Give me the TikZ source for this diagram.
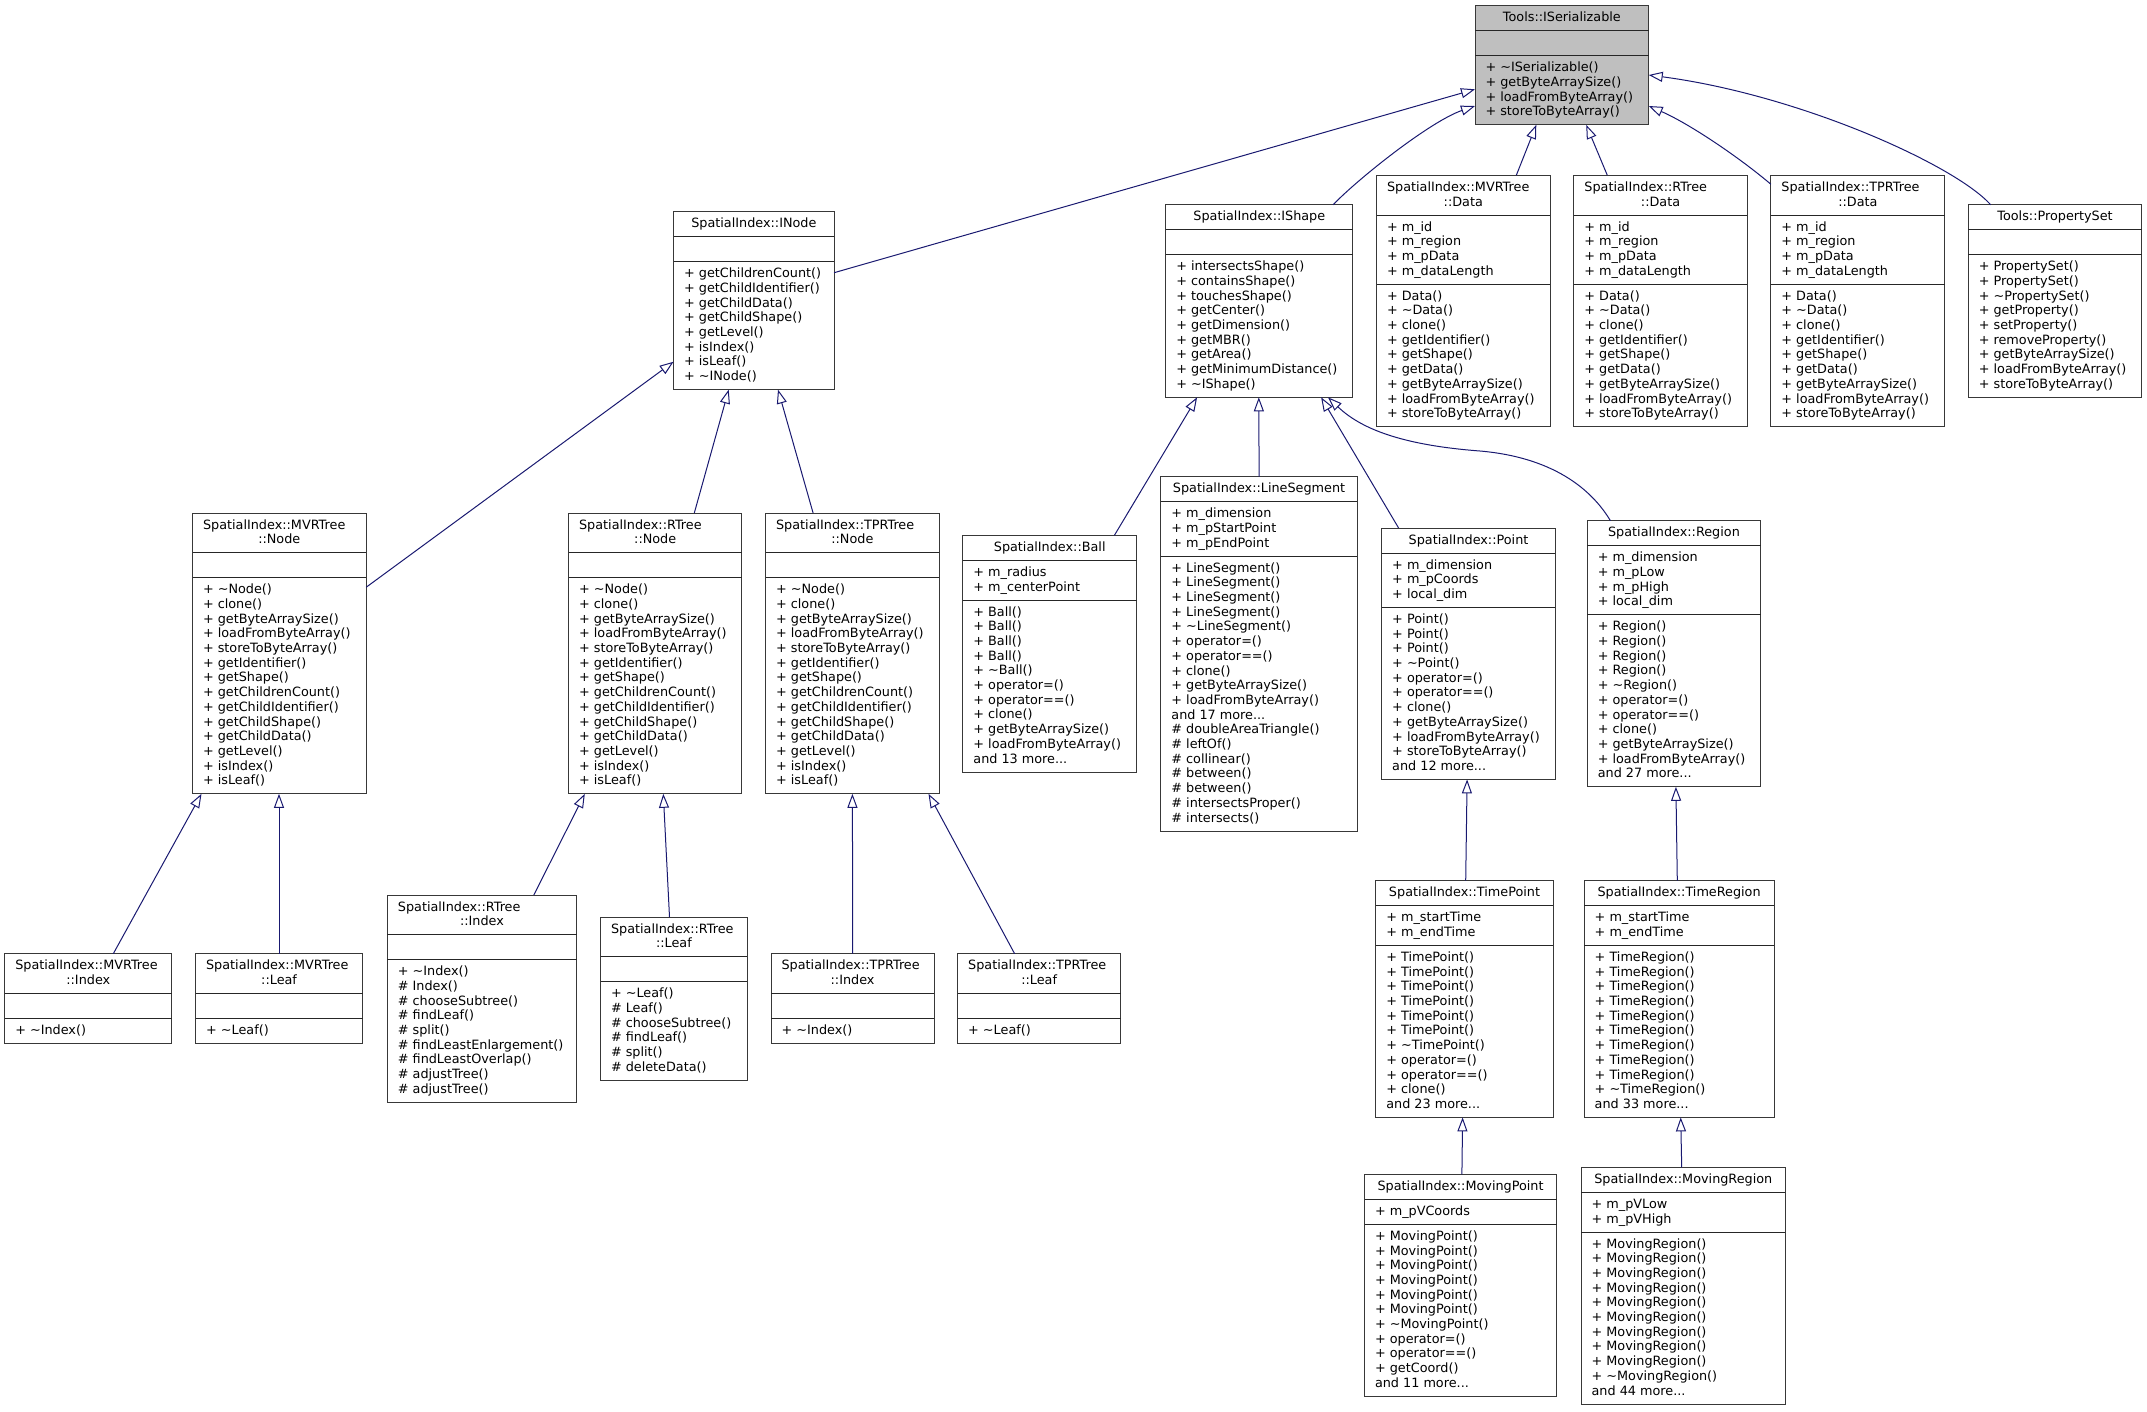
\documentclass[tikz,border=0pt]{standalone}
\usepackage{fontspec}
\setmainfont{DejaVu Sans}
\usetikzlibrary{arrows.meta}
\definecolor{edgeblue}{HTML}{191970}
\definecolor{isergray}{HTML}{BFBFBF}
\newcommand\umlfont{\fontsize{12.8}{14.7}\selectfont}
\newcommand\tld{\textasciitilde}
\def\emptyitem{}
\tikzset{
  umlbox/.style={draw=black!78, line width=1pt, fill=white, inner sep=0pt, outer sep=0pt},
  seprule/.style={draw=black!85, line width=1pt},
  txt/.style={inner sep=0pt, outer sep=0pt, font=\umlfont, text=black},
  inh/.style={draw=edgeblue, line width=1pt, -{Triangle[open, length=14pt, width=10pt]}}
}
% #1 extra style, #2 name, #3 left, #4 right, #5 top, #6 title1, #7 title2, #8 attrs, #9 methods
\newcommand\umlcls[9][]{%
  \gdef\nA{1}\gdef\nM{1}%
  \foreach \itm [count=\ii] in {#8} {\xdef\nA{\ii}}%
  \foreach \itm [count=\ii] in {#9} {\xdef\nM{\ii}}%
  \def\tmpb{#7}%
  \ifx\tmpb\emptyitem \def\nT{1}\else\def\nT{2}\fi
  \pgfmathsetmacro\yA{#5+14.7*\nT+10.3}%
  \pgfmathsetmacro\yB{\yA+14.7*\nA+10.3}%
  \pgfmathsetmacro\yC{\yB+14.7*\nM+10.3}%
  \pgfmathsetmacro\bw{#4-#3}%
  \pgfmathsetmacro\bh{\yC-#5}%
  \node[umlbox,#1,minimum width=\bw pt,minimum height=\bh pt,anchor=north west] (#2) at (#3,#5) {};
  \draw[seprule] (#3,\yA) -- (#4,\yA);
  \draw[seprule] (#3,\yB) -- (#4,\yB);
  \ifx\tmpb\emptyitem
    \node[txt,anchor=base] (#2-t1) at ({(#3+#4)/2},{#5+16}) {#6};
  \else
    \node[txt,anchor=base west] (#2-t1) at ({#3+10.5},{#5+16}) {#6};
    \node[txt,anchor=base] (#2-t2) at ({(#3+#4)/2},{#5+30.7}) {#7};
  \fi
  \foreach \itm [count=\ii] in {#8} {\ifx\itm\emptyitem\else
    \node[txt,anchor=base west] (#2-a\ii) at ({#3+10.5},{\yA+16+14.7*(\ii-1)}) {\itm};\fi}
  \foreach \itm [count=\ii] in {#9} {%
    \node[txt,anchor=base west] (#2-m\ii) at ({#3+10.5},{\yB+16+14.7*(\ii-1)}) {\itm};}
}
\begin{document}
\begin{tikzpicture}[x=1pt,y=-1pt]
\useasboundingbox (0,0) rectangle (2147,1411);

\umlcls[fill=isergray]{ISer}{1475}{1648.7}{5.7}{Tools::ISerializable}{}{}{+ \tld ISerializable(),+ getByteArraySize(),+ loadFromByteArray(),+ storeToByteArray()}

\umlcls{INode}{673.6}{834.1}{211.7}{SpatialIndex::INode}{}{}{+ getChildrenCount(),+ getChildIdentifier(),+ getChildData(),+ getChildShape(),+ getLevel(),+ isIndex(),+ isLeaf(),+ \tld INode()}

\umlcls{IShape}{1165.8}{1352.8}{204.7}{SpatialIndex::IShape}{}{}{+ intersectsShape(),+ containsShape(),+ touchesShape(),+ getCenter(),+ getDimension(),+ getMBR(),+ getArea(),+ getMinimumDistance(),+ \tld IShape()}

\umlcls{MVRData}{1376.5}{1550.1}{175.3}{SpatialIndex::MVRTree}{::Data}{+ m\_id,+ m\_region,+ m\_pData,+ m\_dataLength}{+ Data(),+ \tld Data(),+ clone(),+ getIdentifier(),+ getShape(),+ getData(),+ getByteArraySize(),+ loadFromByteArray(),+ storeToByteArray()}

\umlcls{RTreeData}{1573.9}{1747.2}{175.3}{SpatialIndex::RTree}{::Data}{+ m\_id,+ m\_region,+ m\_pData,+ m\_dataLength}{+ Data(),+ \tld Data(),+ clone(),+ getIdentifier(),+ getShape(),+ getData(),+ getByteArraySize(),+ loadFromByteArray(),+ storeToByteArray()}

\umlcls{TPRData}{1770.9}{1944.8}{175.3}{SpatialIndex::TPRTree}{::Data}{+ m\_id,+ m\_region,+ m\_pData,+ m\_dataLength}{+ Data(),+ \tld Data(),+ clone(),+ getIdentifier(),+ getShape(),+ getData(),+ getByteArraySize(),+ loadFromByteArray(),+ storeToByteArray()}

\umlcls{PropSet}{1968.3}{2141.8}{204.7}{Tools::PropertySet}{}{}{+ PropertySet(),+ PropertySet(),+ \tld PropertySet(),+ getProperty(),+ setProperty(),+ removeProperty(),+ getByteArraySize(),+ loadFromByteArray(),+ storeToByteArray()}

\umlcls{MVRNode}{192.5}{366.1}{513}{SpatialIndex::MVRTree}{::Node}{}{+ \tld Node(),+ clone(),+ getByteArraySize(),+ loadFromByteArray(),+ storeToByteArray(),+ getIdentifier(),+ getShape(),+ getChildrenCount(),+ getChildIdentifier(),+ getChildShape(),+ getChildData(),+ getLevel(),+ isIndex(),+ isLeaf()}

\umlcls{RTreeNode}{568.6}{741.8}{513}{SpatialIndex::RTree}{::Node}{}{+ \tld Node(),+ clone(),+ getByteArraySize(),+ loadFromByteArray(),+ storeToByteArray(),+ getIdentifier(),+ getShape(),+ getChildrenCount(),+ getChildIdentifier(),+ getChildShape(),+ getChildData(),+ getLevel(),+ isIndex(),+ isLeaf()}

\umlcls{TPRNode}{765.6}{939.1}{513}{SpatialIndex::TPRTree}{::Node}{}{+ \tld Node(),+ clone(),+ getByteArraySize(),+ loadFromByteArray(),+ storeToByteArray(),+ getIdentifier(),+ getShape(),+ getChildrenCount(),+ getChildIdentifier(),+ getChildShape(),+ getChildData(),+ getLevel(),+ isIndex(),+ isLeaf()}

\umlcls{Ball}{962.9}{1136.5}{535.3}{SpatialIndex::Ball}{}{+ m\_radius,+ m\_centerPoint}{+ Ball(),+ Ball(),+ Ball(),+ Ball(),+ \tld Ball(),+ operator=(),+ operator==(),+ clone(),+ getByteArraySize(),+ loadFromByteArray(),and 13 more.{}.{}.}

\umlcls{LineSeg}{1160.9}{1357.2}{476.7}{SpatialIndex::LineSegment}{}{+ m\_dimension,+ m\_pStartPoint,+ m\_pEndPoint}{+ LineSegment(),+ LineSegment(),+ LineSegment(),+ LineSegment(),+ \tld LineSegment(),+ operator=(),+ operator==(),+ clone(),+ getByteArraySize(),+ loadFromByteArray(),and 17 more.{}.{}.,\# doubleAreaTriangle(),\# leftOf(),\# collinear(),\# between(),\# between(),\# intersectsProper(),\# intersects()}

\umlcls{Point}{1381.7}{1555.3}{528}{SpatialIndex::Point}{}{+ m\_dimension,+ m\_pCoords,+ local\_dim}{+ Point(),+ Point(),+ Point(),+ \tld Point(),+ operator=(),+ operator==(),+ clone(),+ getByteArraySize(),+ loadFromByteArray(),+ storeToByteArray(),and 12 more.{}.{}.}

\umlcls{Region}{1587.3}{1760.6}{520.7}{SpatialIndex::Region}{}{+ m\_dimension,+ m\_pLow,+ m\_pHigh,+ local\_dim}{+ Region(),+ Region(),+ Region(),+ Region(),+ \tld Region(),+ operator=(),+ operator==(),+ clone(),+ getByteArraySize(),+ loadFromByteArray(),and 27 more.{}.{}.}

\umlcls{TimePoint}{1375.8}{1553.2}{880.7}{SpatialIndex::TimePoint}{}{+ m\_startTime,+ m\_endTime}{+ TimePoint(),+ TimePoint(),+ TimePoint(),+ TimePoint(),+ TimePoint(),+ TimePoint(),+ \tld TimePoint(),+ operator=(),+ operator==(),+ clone(),and 23 more.{}.{}.}

\umlcls{TimeRegion}{1584.2}{1774}{880.7}{SpatialIndex::TimeRegion}{}{+ m\_startTime,+ m\_endTime}{+ TimeRegion(),+ TimeRegion(),+ TimeRegion(),+ TimeRegion(),+ TimeRegion(),+ TimeRegion(),+ TimeRegion(),+ TimeRegion(),+ TimeRegion(),+ \tld TimeRegion(),and 33 more.{}.{}.}

\umlcls{MovingPoint}{1364.5}{1556.6}{1174.3}{SpatialIndex::MovingPoint}{}{+ m\_pVCoords}{+ MovingPoint(),+ MovingPoint(),+ MovingPoint(),+ MovingPoint(),+ MovingPoint(),+ MovingPoint(),+ \tld MovingPoint(),+ operator=(),+ operator==(),+ getCoord(),and 11 more.{}.{}.}

\umlcls{MovingRegion}{1581.1}{1785.4}{1167.3}{SpatialIndex::MovingRegion}{}{+ m\_pVLow,+ m\_pVHigh}{+ MovingRegion(),+ MovingRegion(),+ MovingRegion(),+ MovingRegion(),+ MovingRegion(),+ MovingRegion(),+ MovingRegion(),+ MovingRegion(),+ MovingRegion(),+ \tld MovingRegion(),and 44 more.{}.{}.}

\umlcls{MVRIndex}{4.8}{171.8}{953.7}{SpatialIndex::MVRTree}{::Index}{}{+ \tld Index()}
\umlcls{MVRLeaf}{195.6}{362.6}{953.7}{SpatialIndex::MVRTree}{::Leaf}{}{+ \tld Leaf()}
\umlcls{RTreeIndex}{387.4}{576.5}{895}{SpatialIndex::RTree}{::Index}{}{+ \tld Index(),\# Index(),\# chooseSubtree(),\# findLeaf(),\# split(),\# findLeastEnlargement(),\# findLeastOverlap(),\# adjustTree(),\# adjustTree()}
\umlcls{RTreeLeaf}{600.5}{747.3}{917}{SpatialIndex::RTree}{::Leaf}{}{+ \tld Leaf(),\# Leaf(),\# chooseSubtree(),\# findLeaf(),\# split(),\# deleteData()}
\umlcls{TPRIndex}{771.1}{934}{953.7}{SpatialIndex::TPRTree}{::Index}{}{+ \tld Index()}
\umlcls{TPRLeaf}{957.7}{1120.6}{953.7}{SpatialIndex::TPRTree}{::Leaf}{}{+ \tld Leaf()}

\coordinate (rgnmid) at (1480,451);

\draw[inh] ([shift={(160.5,61)}]INode.north west) -- ([shift={(0,83.6)}]ISer.north west);
\draw[inh] ([shift={(167.3,0)}]IShape.north west) .. controls (1360,177) and (1431,121) .. ([shift={(0,100.3)}]ISer.north west);
\draw[inh] ([shift={(139.8,0)}]MVRData.north west) -- ([shift={(61.3,0)}]ISer.south west);
\draw[inh] ([shift={(33.4,0)}]RTreeData.north west) -- ([shift={(111.2,0)}]ISer.south west);
\draw[inh] ([shift={(0,9)}]TPRData.north west) .. controls (1740,158) and (1690,124) .. ([shift={(0,100.3)}]ISer.north east);
\draw[inh] ([shift={(22.3,0)}]PropSet.north west) .. controls (1955,165) and (1800,95) .. ([shift={(0,69.3)}]ISer.north east);
\draw[inh] ([shift={(0,74.3)}]MVRNode.north east) -- ([shift={(0,150)}]INode.north west);
\draw[inh] ([shift={(125.7,0)}]RTreeNode.north west) -- ([shift={(55.1,0)}]INode.south west);
\draw[inh] ([shift={(47.5,0)}]TPRNode.north west) -- ([shift={(104.4,0)}]INode.south west);
\draw[inh] ([shift={(151.5,0)}]Ball.north west) -- ([shift={(31.3,0)}]IShape.south west);
\draw[inh] ([shift={(98.2,0)}]LineSeg.north west) -- ([shift={(93,0)}]IShape.south west);
\draw[inh] ([shift={(16.9,0)}]Point.north west) -- ([shift={(155.3,0)}]IShape.south west);
\draw[inh] ([shift={(23.1,0)}]Region.north west) .. controls (1595,495) and (1560,458) .. (rgnmid) .. controls (1400,445) and (1360,428) .. ([shift={(162.2,0)}]IShape.south west);
\draw[inh] ([shift={(108.5,0)}]MVRIndex.north west) -- ([shift={(9,0)}]MVRNode.south west);
\draw[inh] ([shift={(83.4,0)}]MVRLeaf.north west) -- ([shift={(86.5,0)}]MVRNode.south west);
\draw[inh] ([shift={(146.4,0)}]RTreeIndex.north west) -- ([shift={(16.2,0)}]RTreeNode.south west);
\draw[inh] ([shift={(69,0)}]RTreeLeaf.north west) -- ([shift={(94.7,0)}]RTreeNode.south west);
\draw[inh] ([shift={(81.6,0)}]TPRIndex.north west) -- ([shift={(86.8,0)}]TPRNode.south west);
\draw[inh] ([shift={(56.9,0)}]TPRLeaf.north west) -- ([shift={(162.9,0)}]TPRNode.south west);
\draw[inh] ([shift={(89.9,0)}]TimePoint.north west) -- ([shift={(85.4,0)}]Point.south west);
\draw[inh] ([shift={(93.1,0)}]TimeRegion.north west) -- ([shift={(88.6,0)}]Region.south west);
\draw[inh] ([shift={(97.4,0)}]MovingPoint.north west) -- ([shift={(86.8,0)}]TimePoint.south west);
\draw[inh] ([shift={(100.6,0)}]MovingRegion.north west) -- ([shift={(96.5,0)}]TimeRegion.south west);
\end{tikzpicture}
\end{document}
